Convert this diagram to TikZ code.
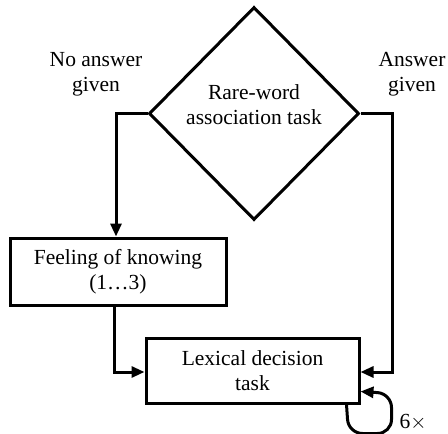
\documentclass[tikz,border=0pt]{standalone}
\usepackage{fontspec}
\setmainfont{Liberation Serif}
\usetikzlibrary{shapes.geometric,arrows.meta}
\begin{document}
\begin{tikzpicture}[x=1pt,y=-1pt,
		every node/.style={font=\fontsize{21.5}{25}\selectfont,align=center},
		box/.style={draw,line width=3pt,inner sep=0pt},
		link/.style={line width=3pt,-{Triangle[length=13pt,width=11pt]}}]
		\useasboundingbox (0,0) rectangle (448,434);
		% set up nodes
		\node[box,diamond,minimum width=210pt,minimum height=213pt,text depth=17pt] (task) at (254,113.5) {Rare-word\\association task};
		\node[box,minimum width=216pt,minimum height=67pt] (fok) at (118,271.5) {Feeling of knowing\\(1\ldots3)};
		\node[box,minimum width=213pt,minimum height=65pt] (ldt) at (252.5,370.5) {Lexical decision\\task};
		\node (noans) at (96,74) {No answer\\given};
		\node (ans) at (412,74) {Answer\\given};
		\node (times) at (413,422) {6$\times$};
		% connect them
		\draw[link] (task.west) -| ([xshift=-2pt]fok.north);
		\draw[link] (task.east) -| ([xshift=32pt,yshift=-1.5pt]ldt.east) -- ([yshift=-1.5pt]ldt.east);
		\draw[link] ([xshift=-4pt]fok.south) |- ([yshift=-1.5pt]ldt.west);
		\draw[link,rounded corners=14pt] ([xshift=-14pt]ldt.south east) -- ++(2,29) -- ++(43,0) -- ++(0,-40) -- ([yshift=-21pt]ldt.east);
\end{tikzpicture}
\end{document}
